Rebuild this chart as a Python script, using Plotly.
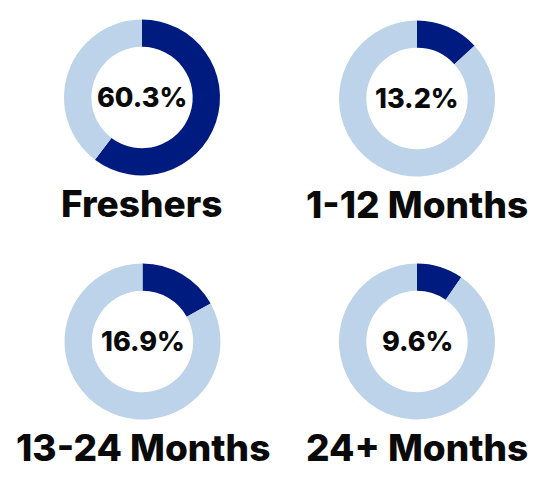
import plotly.graph_objects as go

categories = ["Freshers", "1-12 Months", "13-24 Months", "24+ Months"]
values = [60.3, 13.2, 16.9, 9.6]
pct_labels = ["60.3%", "13.2%", "16.9%", "9.6%"]

W, H = 549, 484
DARK = "#001B80"
LIGHT = "#BDD3E9"
FONT = "Inter"

# layout positions (pixels): center x, center y, radius
centers = [(142, 97.5), (417, 98.5), (142.5, 341.5), (417, 341.5)]
R = 78
label_dy = 106

fig = go.Figure()
annotations = []
for i, (cat, v, pl) in enumerate(zip(categories, values, pct_labels)):
    cx, cy = centers[i]
    fig.add_trace(go.Pie(
        values=[v, 100 - v],
        labels=[cat, "Other"],
        hole=0.65,
        sort=False,
        direction="clockwise",
        rotation=0,
        marker=dict(colors=[DARK, LIGHT], line=dict(width=0)),
        textinfo="none",
        hoverinfo="skip",
        showlegend=False,
        domain=dict(x=[(cx - R) / W, (cx + R) / W],
                    y=[1 - (cy + R) / H, 1 - (cy - R) / H]),
    ))
    annotations.append(dict(
        x=cx / W, y=1 - cy / H, xref="paper", yref="paper",
        text=pl, showarrow=False, xanchor="center", yanchor="middle",
        font=dict(family=FONT, size=27, color="#0a0a0a", weight=800),
    ))
    annotations.append(dict(
        x=cx / W, y=1 - (cy + label_dy) / H, xref="paper", yref="paper",
        text=cat, showarrow=False, xanchor="center", yanchor="middle",
        font=dict(family=FONT, size=37, color="#0a0a0a", weight=800),
    ))

fig.update_layout(
    width=W, height=H,
    margin=dict(l=0, r=0, t=0, b=0),
    paper_bgcolor="white",
    plot_bgcolor="white",
    annotations=annotations,
)
fig.write_html("out.html", config={"displayModeBar": False},
               post_script="document.body.style.margin='0';")
